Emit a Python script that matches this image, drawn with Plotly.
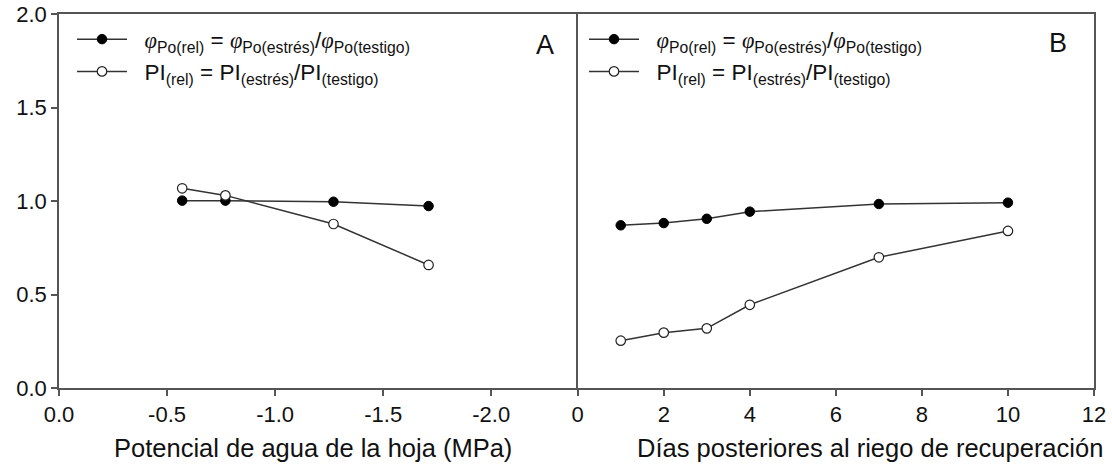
import plotly.graph_objects as go

# Panel A: leaf water potential (MPa)
potencial = [-0.57, -0.77, -1.27, -1.71]
phi_rel_A = [1.002, 1.002, 0.996, 0.973]
pi_rel_A = [1.068, 1.030, 0.877, 0.658]

# Panel B: days after recovery irrigation
dias = [1, 2, 3, 4, 7, 10]
phi_rel_B = [0.870, 0.882, 0.905, 0.943, 0.984, 0.991]
pi_rel_B = [0.253, 0.296, 0.319, 0.445, 0.699, 0.840]

xA_ticks = [0, -0.5, -1.0, -1.5, -2.0]
xA_labels = ["0.0", "-0.5", "-1.0", "-1.5", "-2.0"]
xB_ticks = [0, 2, 4, 6, 8, 10, 12]
xB_labels = ["0", "2", "4", "6", "8", "10", "12"]
y_ticks = [0, 0.5, 1.0, 1.5, 2.0]
y_labels = ["0.0", "0.5", "1.0", "1.5", "2.0"]

PHI = '<span style="font-family:Liberation Serif"><i>φ</i></span>'
name_phi = f"  {PHI}<sub>Po(rel)</sub> = {PHI}<sub>Po(estrés)</sub>/{PHI}<sub>Po(testigo)</sub>"
name_pi = "  PI<sub>(rel)</sub> = PI<sub>(estrés)</sub>/PI<sub>(testigo)</sub>"

LINE = dict(color="#333333", width=1.5)
FILLED = dict(symbol="circle", size=9.5, color="#000000", line=dict(color="#000000", width=1))
OPEN = dict(symbol="circle", size=9.5, color="#ffffff", line=dict(color="#222222", width=1.2))

fig = go.Figure()
fig.add_trace(go.Scatter(x=potencial, y=phi_rel_A, mode="lines+markers", line=LINE, marker=FILLED,
                         name=name_phi, xaxis="x", yaxis="y", legend="legend"))
fig.add_trace(go.Scatter(x=potencial, y=pi_rel_A, mode="lines+markers", line=LINE, marker=OPEN,
                         name=name_pi, xaxis="x", yaxis="y", legend="legend"))
fig.add_trace(go.Scatter(x=dias, y=phi_rel_B, mode="lines+markers", line=LINE, marker=FILLED,
                         name=name_phi, xaxis="x2", yaxis="y2", legend="legend2"))
fig.add_trace(go.Scatter(x=dias, y=pi_rel_B, mode="lines+markers", line=LINE, marker=OPEN,
                         name=name_pi, xaxis="x2", yaxis="y2", legend="legend2"))

# target plot area in screen pixels: x 59..1094, y 14..388
W, H = 1112, 475
L, R, T, B = 59, 18, 14, 87
PW, PH = W - L - R, H - T - B
split = (577.7 - L) / PW


def px_x(px):
    return (px - L) / PW


def px_y(py):
    return 1 - (py - T) / PH


axis_common = dict(showline=True, linecolor="#555555", linewidth=1.5,
                   showgrid=False, zeroline=False, ticks="outside", ticklen=6,
                   tickcolor="#555555", tickwidth=1.5, automargin=False,
                   ticklabeloverflow="allow",
                   tickfont=dict(family="Liberation Sans", size=22, color="#111111"))

legend_common = dict(font=dict(family="Liberation Sans", size=22.5, color="#111111"),
                     bgcolor="rgba(0,0,0,0)", borderwidth=0, xref="paper", yref="paper",
                     xanchor="left", yanchor="top", itemwidth=50, tracegroupgap=0)

fig.update_layout(
    width=W, height=H,
    margin=dict(l=L, r=R, t=T, b=B, autoexpand=False),
    paper_bgcolor="white", plot_bgcolor="white",
    font=dict(family="Liberation Sans", color="#111111"),
    xaxis=dict(domain=[0, split], range=[0, -2.4], tickvals=xA_ticks, ticktext=xA_labels,
               anchor="y", mirror=True, **axis_common),
    yaxis=dict(domain=[0, 1], range=[0, 2], tickvals=y_ticks, ticktext=y_labels,
               anchor="x", mirror=False, **axis_common),
    xaxis2=dict(domain=[split, 1], range=[0, 12], tickvals=xB_ticks, ticktext=xB_labels,
                anchor="y2", mirror=True, **axis_common),
    yaxis2=dict(domain=[0, 1], range=[0, 2], anchor="x2", showline=True, linecolor="#555555",
                linewidth=1.5, mirror=True, showgrid=False, zeroline=False,
                showticklabels=False, ticks=""),
    legend=dict(x=px_x(72), y=px_y(18), **legend_common),
    legend2=dict(x=px_x(584), y=px_y(18), **legend_common),
    showlegend=True,
)

ann_font = dict(family="Liberation Sans", size=25.5, color="#111111")
fig.add_annotation(text="Potencial de agua de la hoja (MPa)", xref="paper", yref="paper",
                   x=px_x(313), y=px_y(448),
                   showarrow=False, font=ann_font, xanchor="center", yanchor="middle")
fig.add_annotation(text="Días posteriores al riego de recuperación", xref="paper", yref="paper",
                   x=px_x(870), y=px_y(448),
                   showarrow=False, font=ann_font, xanchor="center", yanchor="middle")
fig.add_annotation(text="A", xref="paper", yref="paper",
                   x=px_x(545), y=px_y(45),
                   showarrow=False, font=dict(family="Liberation Sans", size=27, color="#111111"),
                   xanchor="center", yanchor="middle")
fig.add_annotation(text="B", xref="paper", yref="paper",
                   x=px_x(1058), y=px_y(43),
                   showarrow=False, font=dict(family="Liberation Sans", size=27, color="#111111"),
                   xanchor="center", yanchor="middle")

fig.write_html("out.html", config={"displayModeBar": False},
               post_script="document.body.style.margin='0';")
